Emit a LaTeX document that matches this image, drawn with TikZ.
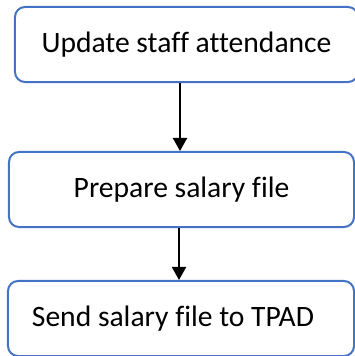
\documentclass[tikz,border=0pt]{standalone}
\usepackage{fontspec}
\setmainfont[Ligatures=NoCommon]{Carlito}
\usetikzlibrary{arrows.meta}
\definecolor{boxblue}{HTML}{4472C4}
\tikzset{
  flowbox/.style={draw=boxblue, line width=2bp, rounded corners=10bp, fill=white,
    minimum height=75bp, inner sep=0pt, font=\fontsize{29.7}{35}\selectfont, anchor=center},
  arr/.style={draw=black, line width=2bp, -{Triangle[width=14bp,length=13bp]}}
}
\begin{document}
\begin{tikzpicture}[x=1bp,y=1bp]
\useasboundingbox (0,0) rectangle (355,356);
\node[flowbox, minimum width=343bp] (b1) at (186.5,311.5) {\raisebox{4bp}{Update staff attendance}};
\node[flowbox, minimum width=345bp] (b2) at (181.5,166.5) {\raisebox{4bp}{Prepare salary file}};
\node[flowbox, minimum width=346bp] (b3) at (181,37.5) {\raisebox{2bp}{Send salary file to TPAD\hspace*{16bp}}};
\draw[arr] ([xshift=-6.5bp]b1.south) -- ([xshift=-6.5bp]b1.south |- b2.north);
\draw[arr] ([xshift=-2.5bp]b2.south) -- ([xshift=-2.5bp]b2.south |- b3.north);
\end{tikzpicture}
\end{document}
